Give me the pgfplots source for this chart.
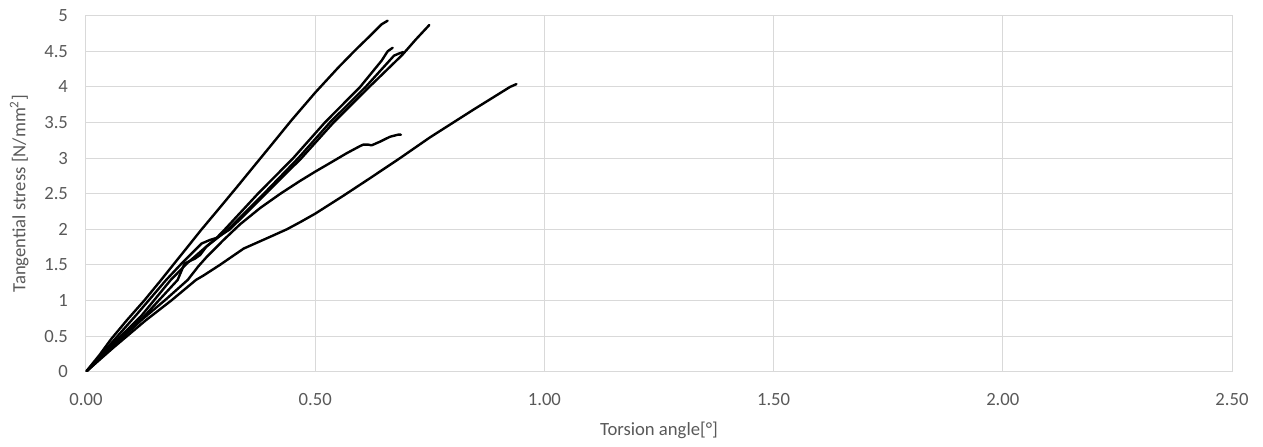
\documentclass[border=0pt]{standalone}
\usepackage{pgfplots}
\pgfplotsset{compat=1.18}
\usepackage{fontspec}
\setmainfont{Carlito}
\definecolor{gridc}{HTML}{D9D9D9}
\definecolor{txt}{HTML}{595959}
\tikzset{cur/.style={black, line width=1.8pt, line join=round, line cap=round}}
\begin{document}
\begin{tikzpicture}
\begin{axis}[
  at={(0,0)}, anchor=south west,
  scale only axis,
  width=859.5pt, height=267pt,
  xmin=0, xmax=2.5, ymin=0, ymax=5,
  xtick={0,0.5,...,2.5},
  ytick={0,0.5,...,5},
  grid=major,
  major grid style={gridc, line width=0.75pt},
  axis line style={gridc, line width=0.75pt},
  major tick length=0pt,
  tick label style={font=\fontsize{14}{16}\selectfont, text=txt},
  label style={font=\fontsize{14}{16}\selectfont, text=txt},
  /pgf/number format/assume math mode=true,
  xticklabel={\pgfmathprintnumber[fixed, fixed zerofill, precision=2]{\tick}},
  yticklabel={\pgfmathprintnumber[fixed, precision=1]{\tick}},
  xticklabel style={yshift=-13pt},
  yticklabel style={xshift=-10pt},
  xlabel={Torsion angle[°]},
  ylabel={Tangential stress [N/mm\textsuperscript{2}]},
  xlabel style={at={(axis description cs:0.5,0)}, anchor=center, yshift=-44pt},
  ylabel style={at={(axis description cs:0,0.5)}, anchor=center, yshift=50pt},
  no marks,
]
% A (highest)
\addplot[cur] coordinates {(0,0) (0.03,0.24) (0.055,0.46) (0.09,0.73) (0.127,1.0) (0.164,1.29) (0.19,1.50) (0.22,1.74) (0.251,1.99) (0.29,2.29) (0.33,2.6) (0.363,2.86) (0.405,3.19) (0.448,3.53) (0.5,3.92) (0.55,4.27) (0.588,4.52) (0.62,4.72) (0.645,4.88) (0.658,4.93)};
% B
\addplot[cur] coordinates {(0,0) (0.055,0.40) (0.11,0.80) (0.175,1.29) (0.21,1.53) (0.238,1.71) (0.252,1.80) (0.27,1.85) (0.285,1.88) (0.303,2.0) (0.375,2.5) (0.452,3.0) (0.521,3.5) (0.598,4.0) (0.645,4.37) (0.658,4.5) (0.669,4.55)};
% C
\addplot[cur] coordinates {(0,0) (0.06,0.40) (0.12,0.78) (0.185,1.29) (0.22,1.52) (0.245,1.66) (0.263,1.76) (0.285,1.88) (0.314,2.0) (0.392,2.5) (0.470,3.0) (0.540,3.5) (0.618,4.0) (0.69,4.45) (0.72,4.67) (0.749,4.87)};
% D
\addplot[cur] coordinates {(0,0) (0.065,0.40) (0.13,0.80) (0.2,1.29) (0.215,1.52) (0.225,1.55) (0.238,1.59) (0.249,1.64) (0.263,1.76) (0.285,1.87) (0.31,2.0) (0.388,2.5) (0.463,3.0) (0.532,3.5) (0.61,4.0) (0.672,4.44) (0.683,4.47) (0.692,4.49)};
% E
\addplot[cur] coordinates {(0,0) (0.06,0.36) (0.12,0.72) (0.175,1.02) (0.222,1.29) (0.245,1.48) (0.263,1.61) (0.30,1.85) (0.336,2.07) (0.38,2.3) (0.424,2.5) (0.467,2.68) (0.5,2.81) (0.532,2.93) (0.569,3.07) (0.598,3.17) (0.605,3.19) (0.615,3.19) (0.623,3.18) (0.641,3.23) (0.663,3.30) (0.681,3.33) (0.687,3.33)};
% F
\addplot[cur] coordinates {(0,0) (0.06,0.34) (0.13,0.72) (0.186,1.0) (0.24,1.29) (0.256,1.35) (0.292,1.5) (0.344,1.73) (0.40,1.89) (0.438,2.0) (0.467,2.1) (0.5,2.22) (0.561,2.47) (0.62,2.72) (0.685,3.0) (0.75,3.29) (0.845,3.68) (0.90,3.9) (0.925,4.0) (0.939,4.04)};
\end{axis}
\pgfresetboundingbox
\useasboundingbox (-64.5pt,-55.7pt) rectangle (882.75pt,278.8pt);
\end{tikzpicture}
\end{document}
